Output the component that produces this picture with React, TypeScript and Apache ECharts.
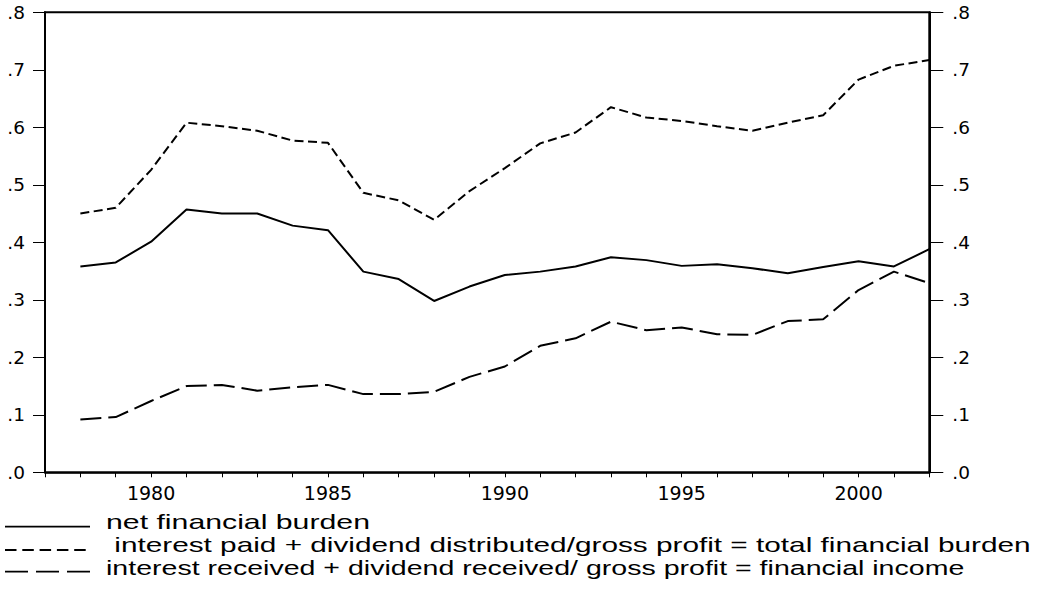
import React, { useEffect, useRef } from "react";
import * as echarts from "echarts";

const years = [1978, 1979, 1980, 1981, 1982, 1983, 1984, 1985, 1986, 1987, 1988, 1989, 1990, 1991, 1992, 1993, 1994, 1995, 1996, 1997, 1998, 1999, 2000, 2001, 2002];
const netBurden = [0.358, 0.365, 0.401, 0.457, 0.450, 0.450, 0.429, 0.421, 0.349, 0.336, 0.298, 0.323, 0.343, 0.349, 0.358, 0.374, 0.369, 0.359, 0.362, 0.355, 0.346, 0.357, 0.367, 0.358, 0.388];
const totalBurden = [0.450, 0.460, 0.526, 0.608, 0.602, 0.594, 0.577, 0.573, 0.486, 0.473, 0.439, 0.489, 0.529, 0.572, 0.591, 0.635, 0.617, 0.611, 0.602, 0.594, 0.608, 0.621, 0.683, 0.707, 0.717];
const finIncome = [0.092, 0.096, 0.124, 0.150, 0.152, 0.142, 0.148, 0.152, 0.136, 0.136, 0.140, 0.166, 0.184, 0.220, 0.233, 0.262, 0.247, 0.252, 0.240, 0.239, 0.263, 0.266, 0.317, 0.349, 0.329];
const seriesNames = [
  "net financial burden",
  " interest paid + dividend distributed/gross profit = total financial burden",
  "interest received + dividend received/ gross profit = financial income",
];
const xTickLabels = ["1980", "1985", "1990", "1995", "2000"];
const xMin = 1977;
const xMax = 2002;
const yMin = 0;
const yMax = 0.8;
const yStep = 0.1;

const AXIS_FONT = "DejaVu Sans";
const LEGEND_FONT = "Liberation Sans";

const seriesDash: (string | number[])[] = ["solid", [9, 4.5], [21, 7]];
const legendDash: (number[] | null)[] = [null, [11.5, 5.8], [23, 8]];

export default function App() {
  const ref = useRef<HTMLDivElement>(null);
  useEffect(() => {
    if (!ref.current) return;
    const chart = echarts.init(ref.current, undefined, { renderer: "svg" });
    const yLabel = (v: number) => v.toFixed(1).replace(/^0/, "");
    const yAxisCommon = {
      type: "value" as const,
      min: yMin,
      max: yMax,
      interval: yStep,
      splitLine: { show: false },
      axisLine: { show: true, lineStyle: { color: "#000", width: 2 } },
      axisTick: { show: true, inside: false, length: 12, lineStyle: { color: "#000", width: 1 } },
    };
    const mk = (vals: number[]) => years.map((y, i) => [y, vals[i]]);
    const seriesVals = [netBurden, totalBurden, finIncome];

    const lineY = [526.7, 550, 571.7];
    const textY = [521.6, 544.6, 567.6];
    const textScale = [1.476, 1.452, 1.393];
    const legendGraphics: any[] = [];
    seriesNames.forEach((name, i) => {
      legendGraphics.push({
        type: "line",
        shape: { x1: 5, y1: lineY[i], x2: 90, y2: lineY[i] },
        style: { stroke: "#000", lineWidth: 1.8, lineDash: legendDash[i] || undefined },
        silent: true,
      });
      legendGraphics.push({
        type: "text",
        x: 106,
        y: textY[i],
        scaleX: textScale[i],
        style: {
          text: name,
          x: 0,
          y: 0,
          fill: "#000",
          fontFamily: LEGEND_FONT,
          fontSize: 20.5,
          verticalAlign: "middle",
          align: "left",
        },
        silent: true,
      });
    });

    chart.setOption({
      animation: false,
      backgroundColor: "#fff",
      grid: {
        left: 45,
        right: 118.7,
        top: 12.3,
        bottom: 116.7,
        show: true,
        borderColor: "#000",
        borderWidth: 2,
        backgroundColor: "transparent",
      },
      xAxis: {
        type: "value",
        min: xMin,
        max: xMax,
        interval: 1,
        splitLine: { show: false },
        axisLine: { show: true, onZero: false, lineStyle: { color: "#000", width: 1.5 } },
        axisTick: { show: true, inside: false, length: 5, lineStyle: { color: "#000", width: 1 } },
        axisLabel: {
          color: "#000",
          fontFamily: AXIS_FONT,
          fontSize: 19,
          margin: 11,
          showMinLabel: true,
          showMaxLabel: true,
          formatter: (v: number) => (xTickLabels.includes(String(v)) ? String(v) : ""),
        },
      },
      yAxis: [
        {
          ...yAxisCommon,
          position: "left",
          axisLabel: { color: "#000", fontFamily: AXIS_FONT, fontSize: 18.5, margin: 20, formatter: yLabel },
        },
        {
          ...yAxisCommon,
          position: "right",
          axisTick: { show: true, inside: false, length: 14, lineStyle: { color: "#000", width: 1 } },
          axisLabel: { color: "#000", fontFamily: AXIS_FONT, fontSize: 18.5, margin: 23, formatter: yLabel },
        },
      ],
      legend: { show: false },
      graphic: legendGraphics,
      series: seriesNames.map((name, i) => ({
        name,
        type: "line",
        data: mk(seriesVals[i]),
        symbol: "none",
        lineStyle: { color: "#000", width: 2, type: seriesDash[i] },
        itemStyle: { color: "#000" },
      })),
    });
    return () => chart.dispose();
  }, []);
  return <div ref={ref} style={{ width: 1048, height: 589, position: "absolute", left: 0, top: 0 }} />;
}
